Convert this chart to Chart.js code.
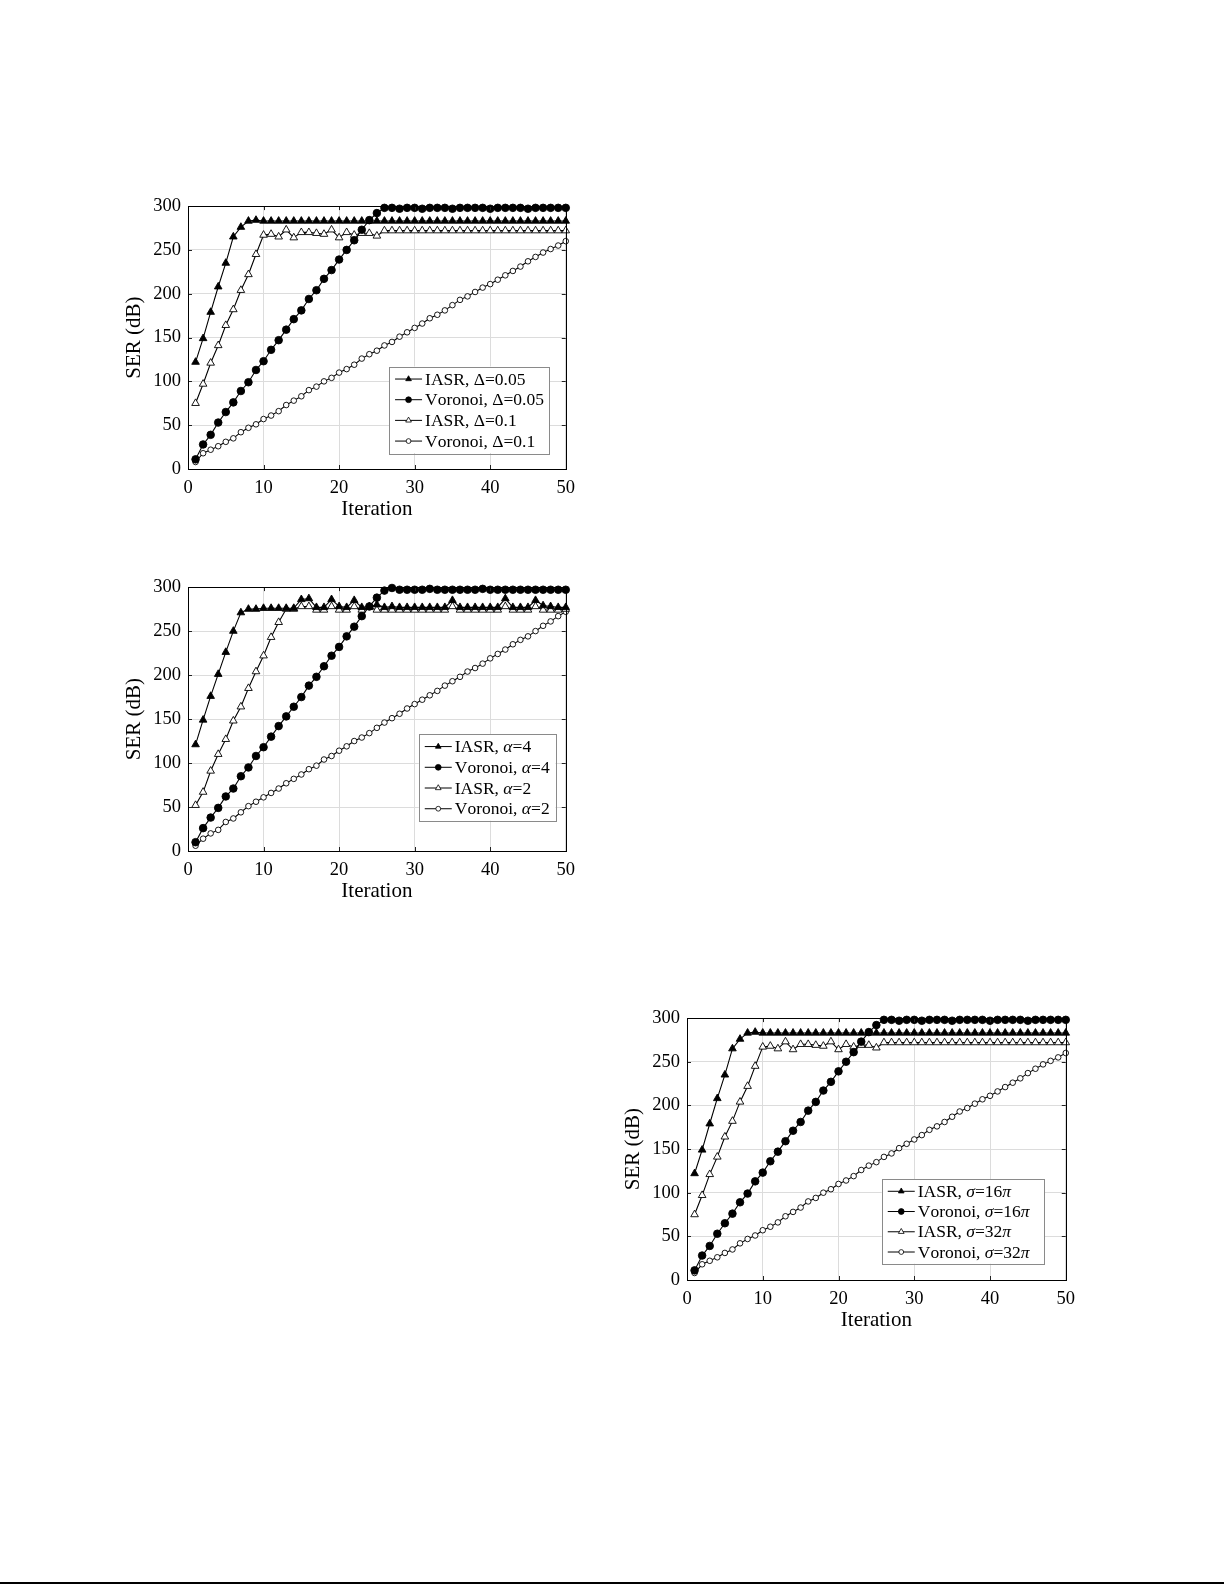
<!DOCTYPE html>
<html><head><meta charset="utf-8">
<script src="https://cdn.jsdelivr.net/npm/chart.js@4.4.1/dist/chart.umd.min.js"></script>
<style>
html,body{margin:0;padding:0;background:#fff;}
#page{position:relative;width:1225px;height:1585px;overflow:hidden;background:#fff;}
canvas{position:absolute;}
#rule{position:absolute;left:0;top:1582px;width:1224px;height:2px;background:#000;}
</style></head>
<body><div id="page">
<canvas id="c1" width="463" height="336" style="left:120px;top:188px;width:463px;height:336px"></canvas>
<canvas id="c2" width="463" height="337" style="left:120px;top:569px;width:463px;height:337px"></canvas>
<canvas id="c3" width="464" height="335" style="left:619px;top:1000px;width:464px;height:335px"></canvas>
<div id="rule"></div>
</div>
<script>
// ---------- data ----------
const iterations = [1,2,3,4,5,6,7,8,9,10,11,12,13,14,15,16,17,18,19,20,21,22,23,24,25,26,27,28,29,30,31,32,33,34,35,36,37,38,39,40,41,42,43,44,45,46,47,48,49,50];
const xTicks = [0,10,20,30,40,50];
const yTicks = [0,50,100,150,200,250,300];

// Chart 1 (quantisation step Delta)
const iasrDelta005 = [122,149,179,208,235,265,276,283,284,283,283,283,283,283,283,283,283,283,283,283,283,283,283,283,283,283,283,283,283,283,283,283,283,283,283,283,283,283,283,283,283,283,283,283,283,283,283,283,283,283];
const voronoiDelta005 = [11,28,39,53,65,76,89,99,113,123,136,147,159,171,181,194,204,217,227,239,250,261,273,284,292,298,298,297,298,298,297,298,298,298,297,298,298,298,298,297,298,298,298,298,297,298,298,298,298,298];
const iasrDelta01 = [75,97,121,141,164,182,204,222,245,267,268,265,273,264,270,270,269,268,273,264,270,267,269,269,266,272,272,272,272,272,272,272,272,272,272,272,272,272,272,272,272,272,272,272,272,272,272,272,272,272];
const voronoiDelta01 = [8,18,22,26,31,35,42,47,51,57,61,66,73,78,83,90,94,100,104,110,114,119,126,131,135,141,145,151,156,161,166,172,176,181,187,193,197,202,207,211,216,221,226,231,237,242,247,251,255,260];
const labels1 = ['IASR, Δ=0.05','Voronoi, Δ=0.05','IASR, Δ=0.1','Voronoi, Δ=0.1'];

// Chart 2 (alpha)
const iasrAlpha4 = [121,149,176,201,226,250,271,275,275,276,276,276,276,276,286,287,277,277,286,278,277,285,277,278,280,277,278,277,277,277,277,277,277,277,285,277,277,277,277,277,277,287,277,277,277,285,279,278,277,277];
const voronoiAlpha4 = [10,26,38,49,62,71,85,95,108,118,130,142,153,164,175,188,198,210,222,232,244,255,267,278,288,296,299,297,297,297,297,298,297,297,297,297,297,297,298,297,297,297,297,297,297,297,297,297,297,297];
const iasrAlpha2 = [52,67,91,110,127,148,164,185,204,222,243,260,275,275,278,278,274,274,278,274,274,278,274,277,274,274,274,274,274,274,274,274,274,274,278,274,274,274,274,274,274,278,274,274,274,278,274,274,274,275];
const voronoiAlpha2 = [6,14,20,24,33,37,44,51,56,61,66,71,77,82,87,93,97,104,108,114,119,125,129,134,140,146,151,156,162,167,172,177,182,188,193,198,204,208,213,219,224,229,235,240,244,250,256,261,267,272];
const labels2 = ['IASR, α=4','Voronoi, α=4','IASR, α=2','Voronoi, α=2'];

// Chart 3 (sigma) - same curves as chart 1
const iasrSigma16 = iasrDelta005;
const voronoiSigma16 = voronoiDelta005;
const iasrSigma32 = iasrDelta01;
const voronoiSigma32 = voronoiDelta01;
const labels3 = ['IASR, σ=16π','Voronoi, σ=16π','IASR, σ=32π','Voronoi, σ=32π'];

// ---------- styling ----------
const SERIF = "'Liberation Serif', 'DejaVu Serif', serif";
const markerStyles = [
  {pointStyle:'triangle', radius:4.4, fill:'#000', lr:3.3},
  {pointStyle:'circle', radius:3.8, fill:'#000', lr:2.9},
  {pointStyle:'triangle', radius:4.4, fill:'#fff', lr:3.3},
  {pointStyle:'circle', radius:2.8, fill:'#fff', lr:2.4}
];

function drawRich(ctx, text, x, y, size) {
  let cx = x;
  for (const ch of text) {
    const it = 'ασπ'.includes(ch);
    ctx.font = (it ? 'italic ' : '') + size + 'px ' + SERIF;
    ctx.fillText(ch, cx, y);
    cx += ctx.measureText(ch).width;
  }
}

const framePlugin = {
  id: 'frame',
  afterDatasetsDraw(chart, args, opts) {
    const ctx = chart.ctx, ca = chart.chartArea;
    const xs = chart.scales.x, ys = chart.scales.y;
    ctx.save();
    // inward ticks
    ctx.strokeStyle = '#222'; ctx.lineWidth = 1;
    ctx.beginPath();
    xs.ticks.forEach(t => {
      const p = Math.round(xs.getPixelForValue(t.value)) + 0.5;
      ctx.moveTo(p, ca.bottom); ctx.lineTo(p, ca.bottom - 4);
      ctx.moveTo(p, ca.top); ctx.lineTo(p, ca.top + 4);
    });
    ys.ticks.forEach(t => {
      const p = Math.round(ys.getPixelForValue(t.value)) + 0.5;
      ctx.moveTo(ca.left, p); ctx.lineTo(ca.left + 4, p);
      ctx.moveTo(ca.right, p); ctx.lineTo(ca.right - 4, p);
    });
    ctx.stroke();
    // legend box
    const L = opts;
    const bx = ca.right - L.right - L.width, by = ca.bottom - L.bottom - L.height;
    ctx.fillStyle = '#fff';
    ctx.fillRect(bx, by, L.width, L.height);
    ctx.strokeStyle = '#8a8a8a'; ctx.lineWidth = 1;
    ctx.strokeRect(Math.round(bx) + 0.5, Math.round(by) + 0.5, Math.round(L.width), Math.round(L.height));
    const first = L.height * 0.145, rowH = L.height * 0.239;
    chart.data.datasets.forEach((ds, i) => {
      const cy = by + first + i * rowH;
      ctx.strokeStyle = '#000'; ctx.lineWidth = 1;
      ctx.beginPath(); ctx.moveTo(bx + 6, cy); ctx.lineTo(bx + 33, cy); ctx.stroke();
      const m = markerStyles[i];
      ctx.fillStyle = m.fill; ctx.strokeStyle = '#000'; ctx.lineWidth = 0.8;
      Chart.helpers.drawPoint(ctx, {pointStyle: m.pointStyle, radius: m.lr, borderWidth: 0.8, rotation: 0}, bx + 19.5, cy);
      ctx.fillStyle = '#000'; ctx.textBaseline = 'middle'; ctx.textAlign = 'left';
      drawRich(ctx, ds.label, bx + 36, cy + 1, 17.5);
    });
    // axes box
    ctx.strokeStyle = '#000'; ctx.lineWidth = 1;
    ctx.strokeRect(Math.round(ca.left) + 0.5, Math.round(ca.top) + 0.5, Math.round(ca.right - ca.left), Math.round(ca.bottom - ca.top));
    ctx.restore();
  }
};

function makeChart(id, series, labels, legendOpts) {
  const datasets = series.map((vals, i) => {
    const m = markerStyles[i];
    return {
      label: labels[i],
      data: iterations.map((x, k) => ({x: x, y: vals[k]})),
      borderColor: '#000', borderWidth: 1.1,
      pointStyle: m.pointStyle, pointRadius: m.radius,
      pointBackgroundColor: m.fill, pointBorderColor: '#000', pointBorderWidth: 0.9,
      tension: 0, fill: false, clip: 12
    };
  });
  return new Chart(document.getElementById(id), {
    type: 'line',
    data: {datasets},
    plugins: [framePlugin],
    options: {
      responsive: false, animation: false, devicePixelRatio: 1,
      layout: {padding: 0},
      plugins: {legend: {display: false}, tooltip: {enabled: false}, frame: legendOpts},
      scales: {
        x: {
          type: 'linear', min: 0, max: 50,
          afterBuildTicks: s => { s.ticks = xTicks.map(v => ({value: v})); },
          afterFit: s => { s.height = 55; },
          grid: {color: '#dcdcdc', drawTicks: false, lineWidth: 1},
          border: {display: false},
          ticks: {color: '#000', padding: 8, font: {family: SERIF, size: 18.5}, maxRotation: 0},
          title: {display: true, text: 'Iteration', color: '#000', font: {family: SERIF, size: 21}, padding: {top: 0, bottom: 2}}
        },
        y: {
          type: 'linear', min: 0, max: 300,
          afterBuildTicks: s => { s.ticks = yTicks.map(v => ({value: v})); },
          afterFit: s => { s.width = 68; },
          grid: {color: '#dcdcdc', drawTicks: false, lineWidth: 1},
          border: {display: false},
          ticks: {color: '#000', padding: 7, font: {family: SERIF, size: 18.5}},
          title: {display: true, text: 'SER (dB)', color: '#000', font: {family: SERIF, size: 21}, padding: {top: 2, bottom: 0}}
        }
      }
    }
  });
}

makeChart('c1', [iasrDelta005, voronoiDelta005, iasrDelta01, voronoiDelta01], labels1,
  {right: 16.7, bottom: 16, width: 160, height: 86.5});
makeChart('c2', [iasrAlpha4, voronoiAlpha4, iasrAlpha2, voronoiAlpha2], labels2,
  {right: 10.3, bottom: 30.3, width: 136.7, height: 86.7});
makeChart('c3', [iasrSigma16, voronoiSigma16, iasrSigma32, voronoiSigma32], labels3,
  {right: 21.7, bottom: 16.3, width: 162.3, height: 84.7});
</script>
</body></html>
